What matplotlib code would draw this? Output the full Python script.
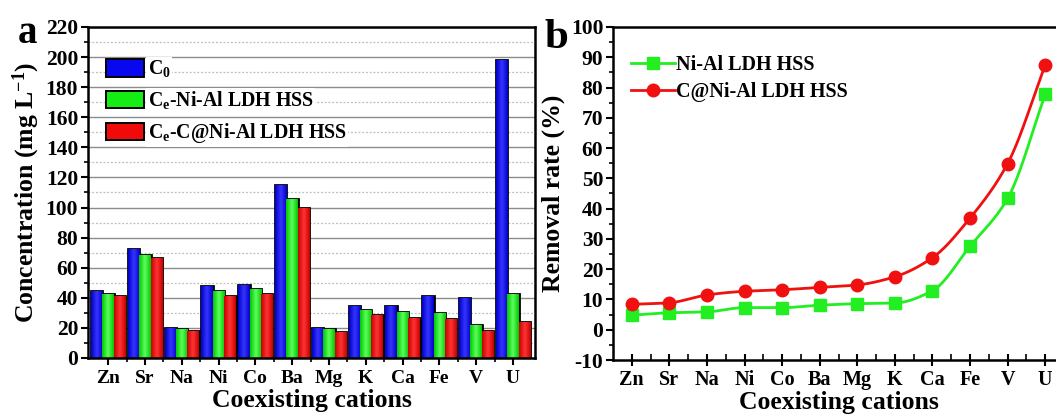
import numpy as np
import matplotlib
matplotlib.use("Agg")
import matplotlib.pyplot as plt
from matplotlib.ticker import MultipleLocator, FixedLocator
from matplotlib.lines import Line2D
from matplotlib.colors import LinearSegmentedColormap

plt.rcParams['font.family'] = ['Liberation Serif', 'DejaVu Serif']
plt.rcParams['font.weight'] = 'bold'
plt.rcParams['axes.labelweight'] = 'bold'
plt.rcParams['axes.unicode_minus'] = False
plt.rcParams['mathtext.fontset'] = 'custom'
plt.rcParams['mathtext.rm'] = 'Liberation Serif:bold'
plt.rcParams['mathtext.it'] = 'Liberation Serif:bold'
plt.rcParams['mathtext.bf'] = 'Liberation Serif:bold'

cations = ["Zn", "Sr", "Na", "Ni", "Co", "Ba", "Mg", "K", "Ca", "Fe", "V", "U"]

# Concentrations (mg/L)
c0 = [44.7, 72.2, 20.0, 47.6, 48.7, 115.0, 20.0, 34.5, 34.5, 41.4, 39.7, 198.0]
ce_nial = [42.5, 68.4, 19.0, 44.7, 45.8, 105.6, 19.0, 31.7, 30.8, 29.7, 21.7, 42.5]
ce_cnial = [41.4, 66.2, 18.0, 41.4, 42.5, 99.5, 17.0, 28.8, 26.8, 25.9, 18.0, 23.9]

# Removal rates (%)
rr_nial = [4.8, 5.6, 5.9, 7.3, 7.3, 8.1, 8.6, 8.8, 12.9, 27.6, 43.4, 77.7]
rr_cnial = [8.4, 8.9, 11.5, 12.7, 13.2, 14.0, 14.8, 17.5, 23.8, 36.9, 54.9, 87.4]

BLUE = "#0808f0"
GREEN = "#14ee14"
RED = "#f00a0a"
# edge / centre shades used for the shaded bar fill
SHADES = {BLUE: ("#0000c8", "#3535ff"),
          GREEN: ("#00c800", "#5cff5c"),
          RED: ("#c80000", "#ff3535")}
LGREEN = "#22ee22"
LRED = "#f01010"


def monotone_curve(x, y, n=400):
    """Fritsch-Carlson monotone cubic through the given points."""
    x = np.asarray(x, float)
    y = np.asarray(y, float)
    h = np.diff(x)
    d = np.diff(y) / h
    m = np.zeros_like(y)
    m[0], m[-1] = d[0], d[-1]
    for i in range(1, len(x) - 1):
        if d[i - 1] * d[i] <= 0:
            m[i] = 0.0
        else:
            w1 = 2 * h[i] + h[i - 1]
            w2 = h[i] + 2 * h[i - 1]
            m[i] = (w1 + w2) / (w1 / d[i - 1] + w2 / d[i])
    xs = np.linspace(x[0], x[-1], n)
    idx = np.clip(np.searchsorted(x, xs) - 1, 0, len(x) - 2)
    t = (xs - x[idx]) / h[idx]
    h00 = 2 * t ** 3 - 3 * t ** 2 + 1
    h10 = t ** 3 - 2 * t ** 2 + t
    h01 = -2 * t ** 3 + 3 * t ** 2
    h11 = t ** 3 - t ** 2
    ys = (h00 * y[idx] + h10 * h[idx] * m[idx]
          + h01 * y[idx + 1] + h11 * h[idx] * m[idx + 1])
    return xs, ys


def shade_bars(ax, bars, base):
    edge, centre = SHADES[base]
    cmap = LinearSegmentedColormap.from_list("shade", [edge, centre, edge])
    grad = np.linspace(0, 1, 64).reshape(1, -1)
    for p in bars:
        x0, y0 = p.get_x(), p.get_y()
        im = ax.imshow(grad, cmap=cmap, aspect="auto", interpolation="bilinear",
                       extent=[x0, x0 + p.get_width(), y0, y0 + p.get_height()],
                       zorder=3.1)
        im.set_clip_path(p)


fig = plt.figure(figsize=(10.56, 4.19), dpi=100)

# ---------------- panel a: bar chart ----------------
ax1 = fig.add_axes([0.0833, 0.1456, 0.4233, 0.79])
x = np.arange(len(cations))
w = 0.31
kw = dict(width=w, edgecolor="black", linewidth=2.0, zorder=3)
b1 = ax1.bar(x - w, c0, color=BLUE, **kw)
b2 = ax1.bar(x, ce_nial, color=GREEN, **kw)
b3 = ax1.bar(x + w, ce_cnial, color=RED, **kw)
for bars, col in ((b1, BLUE), (b2, GREEN), (b3, RED)):
    shade_bars(ax1, bars, col)

ax1.set_xlim(-0.55, 11.6)
ax1.set_ylim(0, 220)
ax1.yaxis.set_major_locator(MultipleLocator(20))
ax1.yaxis.set_minor_locator(MultipleLocator(10))
ax1.set_xticks(x)
ax1.set_xticklabels(cations, fontsize=14)
ax1.xaxis.set_minor_locator(FixedLocator(x[:-1] + 0.5))
ax1.grid(axis="y", which="major", color="#8c8c8c", linewidth=1.0, zorder=0)
ax1.grid(axis="y", which="minor", color="#bdbdbd", linewidth=0.9,
         linestyle=(0, (1.5, 1.5)), zorder=0)
ax1.set_axisbelow(True)
ax1.tick_params(axis="both", which="major", direction="out", length=5, width=1.5)
ax1.tick_params(axis="y", which="major", labelsize=15.5, pad=2)
ax1.tick_params(axis="both", which="minor", direction="out", length=3, width=1.2)
ax1.tick_params(axis="x", which="major", pad=4)
for s in ax1.spines.values():
    s.set_linewidth(1.8)
    s.set_zorder(5)
ax1.set_xlabel("Coexisting cations", fontsize=18.5, labelpad=1)
ax1.set_ylabel("Concentration (mg L$^{-1}$)", fontsize=18.5, labelpad=3)

leg1 = ax1.legend([b1, b2, b3],
                  ["C$_{0}$", "C$_{\\mathrm{e}}$-Ni-Al LDH HSS",
                   "C$_{\\mathrm{e}}$-C@Ni-Al LDH HSS"],
                  loc="upper left", bbox_to_anchor=(0.04, 0.905),
                  frameon=False, fontsize=14.3, handlelength=1.9, handleheight=1.0,
                  handletextpad=0.2, labelspacing=0.5, borderpad=0.0,
                  borderaxespad=0.0)
for t in leg1.get_texts():
    t.set_bbox(dict(facecolor="white", edgecolor="none", pad=1))
for p in leg1.get_patches():
    p.set_linewidth(1.4)

fig.text(0.017, 0.897, "a", fontsize=28, fontweight="bold")

# ---------------- panel b: removal rate ----------------
ax2 = fig.add_axes([0.5805, 0.1408, 0.4271, 0.7948])
xs, ys = monotone_curve(x, rr_nial)
ax2.plot(xs, ys, color=LGREEN, linewidth=2.0, zorder=3)
ax2.plot(x, rr_nial, linestyle="none", marker="s", markersize=8,
         color=LGREEN, zorder=4)
xs, ys = monotone_curve(x, rr_cnial)
ax2.plot(xs, ys, color=LRED, linewidth=2.0, zorder=3)
ax2.plot(x, rr_cnial, linestyle="none", marker="o", markersize=9,
         color=LRED, zorder=4)

ax2.set_xlim(-0.5, 11.5)
ax2.set_ylim(-10, 100)
ax2.yaxis.set_major_locator(MultipleLocator(10))
ax2.yaxis.set_minor_locator(MultipleLocator(5))
ax2.set_xticks(x)
ax2.set_xticklabels(cations, fontsize=14.5)
ax2.xaxis.set_minor_locator(FixedLocator(x[:-1] + 0.5))
ax2.tick_params(axis="y", which="major", direction="out", length=5, width=1.5,
                labelsize=15.5, pad=2)
ax2.tick_params(axis="y", which="minor", direction="out", length=3, width=1.2)
ax2.tick_params(axis="x", which="major", direction="inout", length=8, width=1.5,
                pad=3)
ax2.tick_params(axis="x", which="minor", direction="in", length=4, width=1.2)
for s in ax2.spines.values():
    s.set_linewidth(1.8)
ax2.spines["right"].set_visible(False)
ax2.set_xlabel("Coexisting cations", fontsize=18.5, labelpad=1)
ax2.set_ylabel("Removal rate (%)", fontsize=18.5, labelpad=4)

handles = [Line2D([], [], color=LGREEN, marker="s", markersize=8, linewidth=2.0),
           Line2D([], [], color=LRED, marker="o", markersize=9, linewidth=2.0)]
ax2.legend(handles, ["Ni-Al LDH HSS", "C@Ni-Al LDH HSS"], loc="upper left",
           bbox_to_anchor=(0.04, 0.915), frameon=False, fontsize=14.5,
           handlelength=2.2, handletextpad=0.05, labelspacing=0.35,
           borderpad=0.0, borderaxespad=0.0)

fig.text(0.516, 0.885, "b", fontsize=31, fontweight="bold")

fig.savefig("out.png", dpi=100)
